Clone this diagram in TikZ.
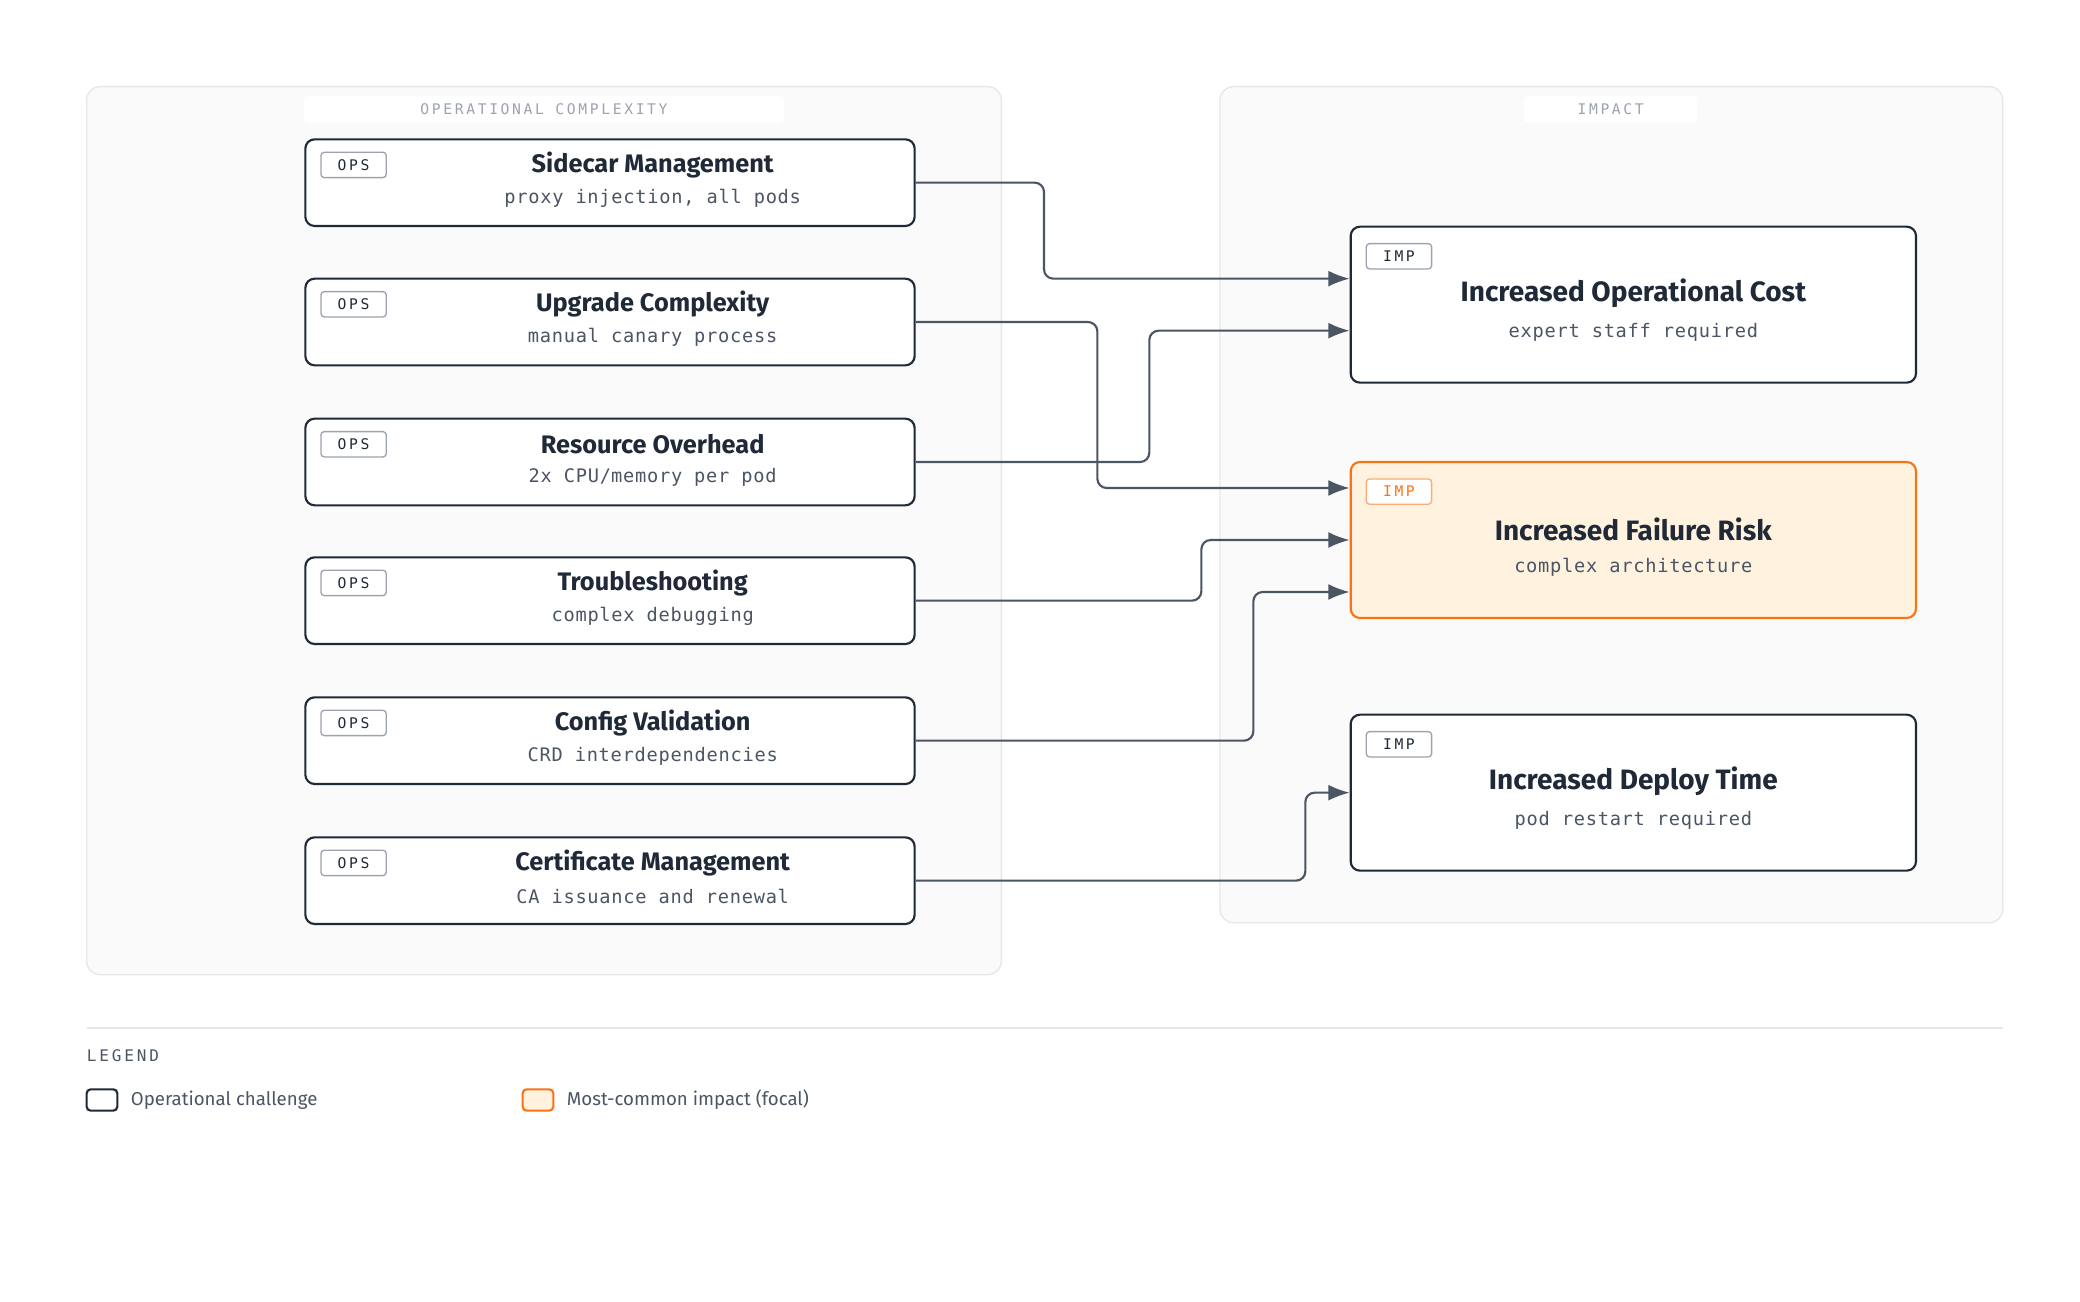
\documentclass[tikz,border=0pt]{standalone}
\usepackage{fontspec}
\setmainfont{Fira Sans}
\newfontfamily\monof[LetterSpace=4]{DejaVu Sans Mono}
\newfontfamily\monotag[LetterSpace=18]{DejaVu Sans Mono}
\usetikzlibrary{arrows.meta}
\definecolor{ink}{HTML}{1F2937}
\definecolor{wire}{HTML}{4B5563}
\definecolor{soft}{HTML}{6B7280}
\definecolor{pale}{HTML}{9CA3AF}
\definecolor{panel}{HTML}{FAFAFA}
\definecolor{edge}{HTML}{E5E7EB}
\definecolor{focal}{HTML}{F97316}
\definecolor{focalfill}{HTML}{FFF3E0}
\tikzset{
    panel/.style={draw=edge, fill=panel, rounded corners=10pt, line width=1pt},
    head/.style={fill=white, rounded corners=3pt, minimum height=20pt, font=\monotag\fontsize{11}{11}\selectfont, text=pale},
    ops/.style={draw=ink, fill=white, rounded corners=7pt, line width=1.6pt, minimum width=457pt, minimum height=65pt},
    imp/.style={draw=ink, fill=white, rounded corners=7pt, line width=1.6pt, minimum width=424pt, minimum height=117pt},
    tag/.style={draw=pale, fill=white, rounded corners=2.5pt, line width=1pt, minimum width=49pt, minimum height=19pt, inner sep=0pt, font=\monotag\fontsize{11}{11}\selectfont, text=ink},
    ttl/.style={font=\bfseries\fontsize{19}{19}\selectfont, text=ink},
    sub/.style={font=\monof\fontsize{14}{14}\selectfont, text=wire},
    conn/.style={draw=wire, line width=1.6pt, rounded corners=7pt, -{Latex[length=16pt,width=12pt]}},
}
\begin{document}
\begin{tikzpicture}[x=1pt,y=-1pt]
    \useasboundingbox[fill=white] (0,0) rectangle (1560,976);

    % panels
    \draw[panel] (65,65) rectangle (751,731);
    \draw[panel] (915,65) rectangle (1502,692);
    \node[head, minimum width=360pt] (hops) at (408,82) {OPERATIONAL COMPLEXITY};
    \node[head, minimum width=130pt] (himp) at (1208,82) {IMPACT};

    % operational challenges
    \foreach \n/\y/\t/\s in {s1/137/Sidecar Management/{proxy injection, all pods},
                             s2/241.5/Upgrade Complexity/manual canary process,
                             s3/346.5/Resource Overhead/2x CPU\slash memory per pod,
                             s4/450.5/Troubleshooting/complex debugging,
                             s5/555.5/Config Validation/CRD interdependencies,
                             s6/660.5/Certificate Management/CA issuance and renewal} {
        \node[ops] (\n) at (457.5,\y) {};
        \node[tag] at ([xshift=37pt,yshift=-20pt]\n.north west) {OPS};
        \node[ttl] at ([xshift=32pt,yshift=-20pt]\n.north) {\t};
        \node[sub] at ([xshift=32pt,yshift=-45pt]\n.north) {\s};
    }

    % impacts
    \node[imp] (cost) at (1225,228.5) {};
    \node[imp, draw=focal, fill=focalfill] (risk) at (1225,405) {};
    \node[imp] (deploy) at (1225,594.5) {};
    \foreach \n/\t/\s in {cost/Increased Operational Cost/expert staff required,
                          risk/Increased Failure Risk/complex architecture,
                          deploy/Increased Deploy Time/pod restart required} {
        \node[ttl, font=\bfseries\fontsize{21}{21}\selectfont] at ([yshift=-51pt]\n.north) {\t};
        \node[sub] at ([yshift=-80pt]\n.north) {\s};
    }
    \node[tag] at ([xshift=37pt,yshift=-23pt]cost.north west) {IMP};
    \node[tag, draw=focal!60, text=focal] at ([xshift=37pt,yshift=-23pt]risk.north west) {IMP};
    \node[tag] at ([xshift=37pt,yshift=-23pt]deploy.north west) {IMP};

    % connectors
    \draw[conn] (s1.east) -- (783,137) |- ([yshift=19.5pt]cost.west);
    \draw[conn] (s2.east) -- (823,241.5) |- ([yshift=39pt]risk.west);
    \draw[conn] (s3.east) -- (862,346.5) |- ([yshift=-19.5pt]cost.west);
    \draw[conn] (s4.east) -- (901,450.5) |- (risk.west);
    \draw[conn] (s5.east) -- (940,555.5) |- ([yshift=-39pt]risk.west);
    \draw[conn] (s6.east) -- (979,660.5) |- (deploy.west);

    % legend
    \draw[edge, line width=1pt] (65,771) -- (1502,771);
    \node[anchor=west, inner sep=0pt, font=\monotag\fontsize{12}{12}\selectfont, text=wire] (lg) at (65,792) {LEGEND};
    \draw[ink, line width=1.6pt, rounded corners=3pt] (65,817) rectangle (88,833);
    \node[anchor=west, inner sep=0pt, font=\fontsize{14}{14}\selectfont, text=wire] (l1) at (98,825) {Operational challenge};
    \draw[focal, fill=focalfill, line width=1.6pt, rounded corners=3pt] (392,817) rectangle (415,833);
    \node[anchor=west, inner sep=0pt, font=\fontsize{14}{14}\selectfont, text=wire] (l2) at (425,825) {Most-common impact (focal)};
\end{tikzpicture}
\end{document}
